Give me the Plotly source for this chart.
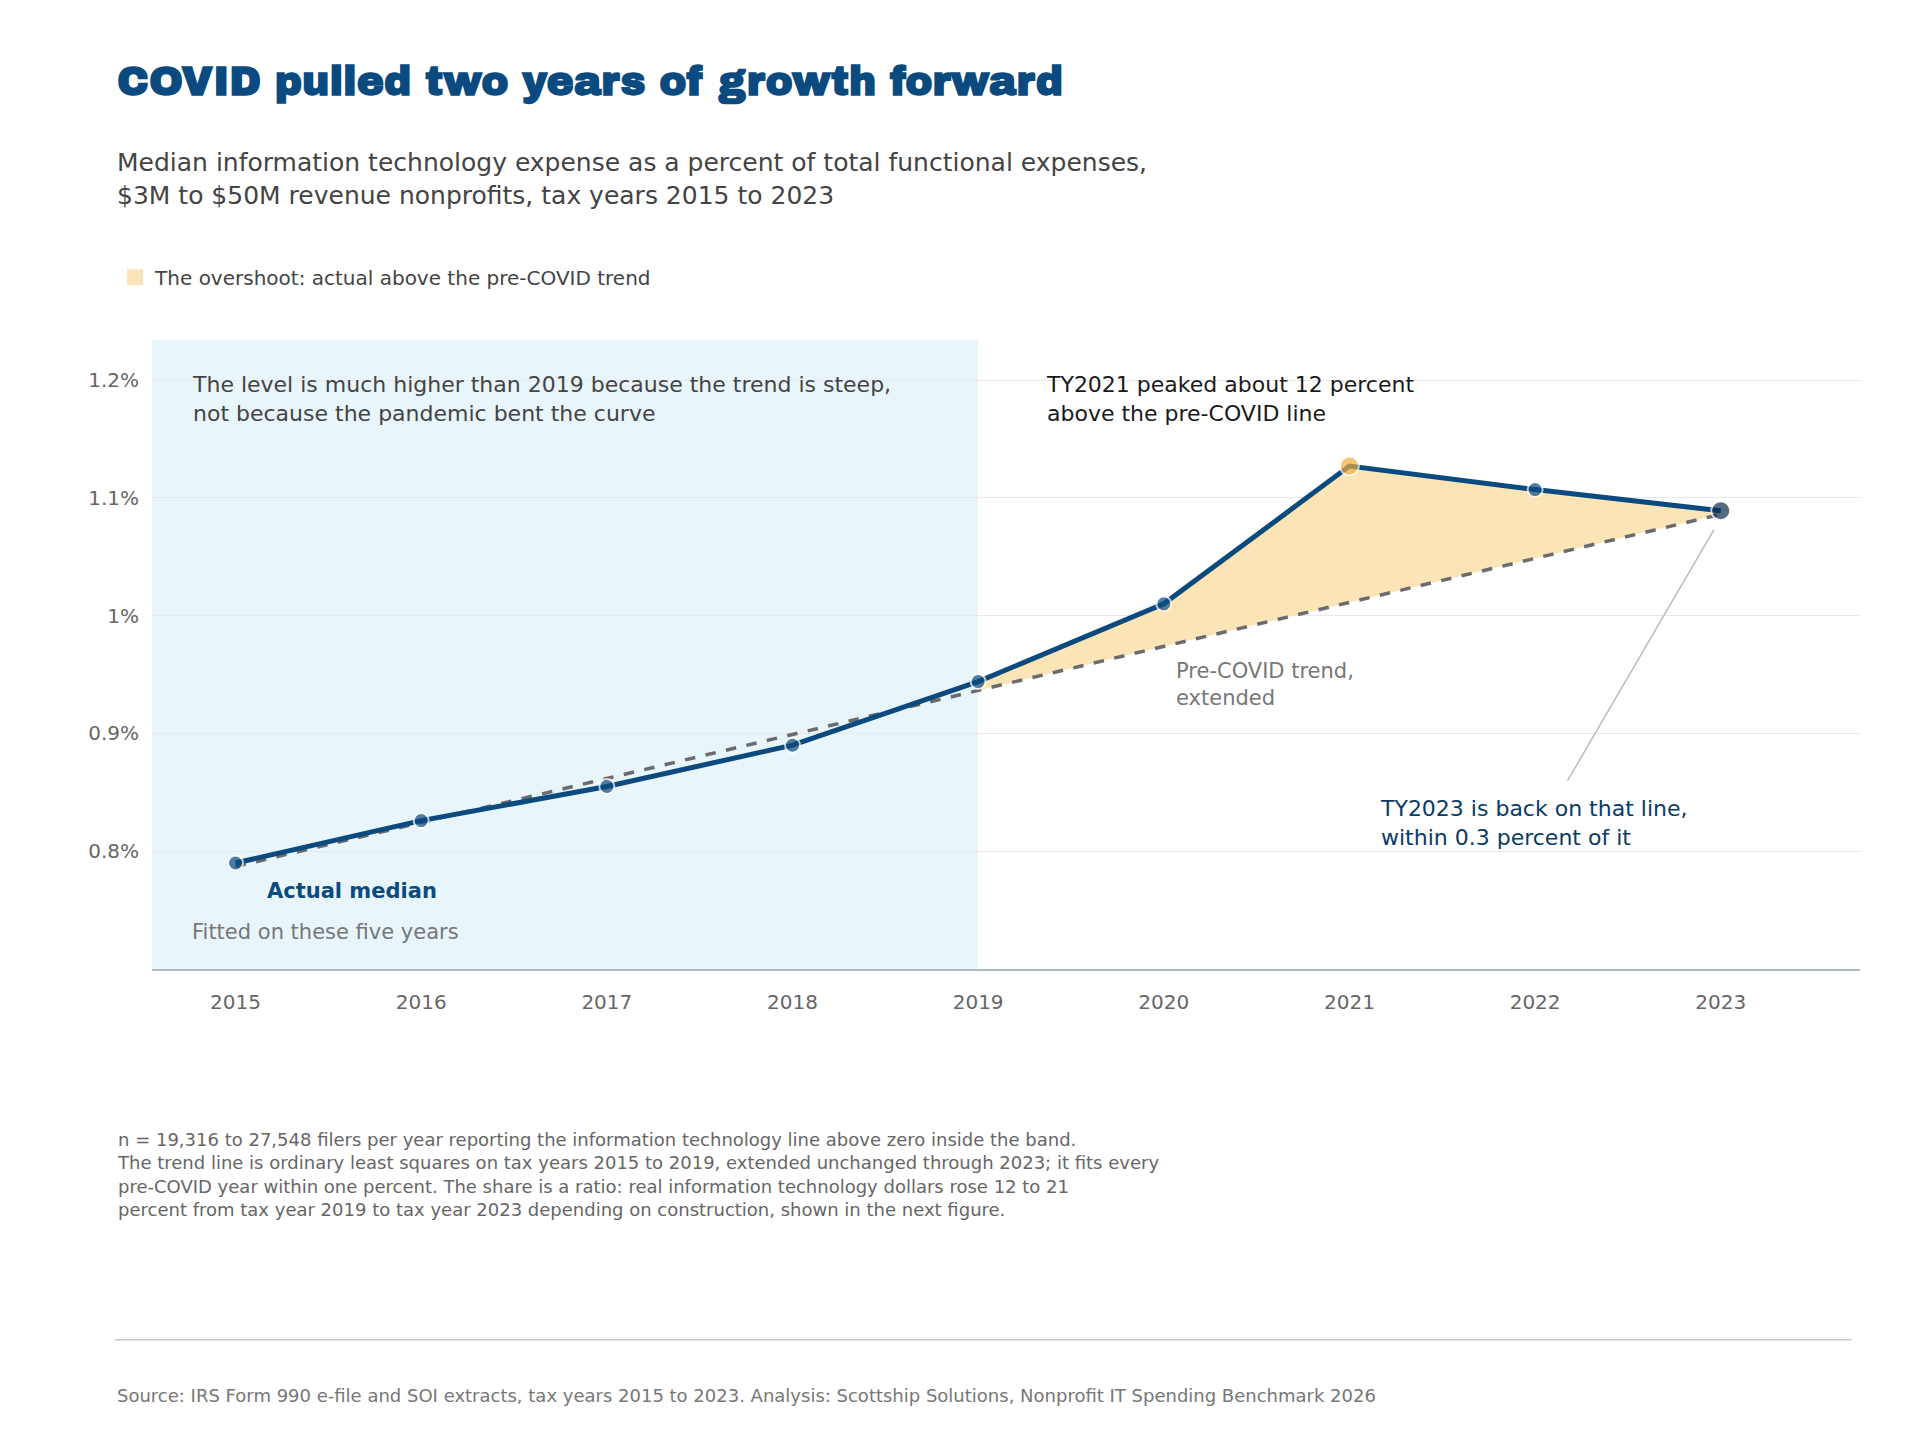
import plotly.graph_objects as go

years = [2015, 2016, 2017, 2018, 2019, 2020, 2021, 2022, 2023]
actual = [0.790, 0.826, 0.855, 0.890, 0.944, 1.010, 1.127, 1.107, 1.089]
trend_years = [2015, 2023]
trend = [0.787, 1.086]
trend_ext_years = [2019, 2020, 2021, 2022, 2023]
trend_ext = [0.9365, 0.974, 1.0115, 1.049, 1.086]
ytick_vals = [0.8, 0.9, 1.0, 1.1, 1.2]
ytick_text = ["0.8%", "0.9%", "1%", "1.1%", "1.2%"]

W, H = 1920, 1440
S = W / 1560  # reference measured at display scale
L, R, T, B = 144, 68, 332, 479
PW, PH = W - L - R, H - T - B


def px(x):
    return (x * S - L) / PW


def py(y):
    return (H - B - y * S) / PH


NAVY = "#0b4a7e"
FONT = "DejaVu Sans, sans-serif"

fig = go.Figure()

fig.add_vrect(x0=2014.55, x1=2019, fillcolor="#e8f5fb", line_width=0, layer="below")

# overshoot fill
fig.add_trace(go.Scatter(x=trend_ext_years, y=trend_ext, mode="lines",
                         line=dict(width=0), showlegend=False, hoverinfo="skip"))
fig.add_trace(go.Scatter(x=trend_ext_years, y=actual[4:], mode="lines", fill="tonexty",
                         fillcolor="#fbe5b6", line=dict(width=0), showlegend=False))
# legend swatch
fig.add_trace(go.Scatter(x=[None], y=[None], mode="markers",
                         marker=dict(symbol="square", size=20, color="#fbe5b6"),
                         name="The overshoot: actual above the pre-COVID trend"))

fig.add_trace(go.Scatter(x=trend_years, y=trend, mode="lines", showlegend=False,
                         line=dict(color="#6b6b6b", width=3.5, dash="dash")))

colors = [NAVY] * 6 + ["#f0ae3c", NAVY, "#0b2d4f"]
sizes = [15] * 6 + [19, 15, 19]
fig.add_trace(go.Scatter(x=years, y=actual, mode="lines+markers", showlegend=False,
                         line=dict(color=NAVY, width=5),
                         marker=dict(color=colors, size=sizes, line=dict(color="white", width=2))))

ann = []


def text(x, y, t, size=21, color="#444", bold=False, xanchor="left"):
    ann.append(dict(x=px(x), y=py(y), xref="paper", yref="paper", text=f"<b>{t}</b>" if bold else t,
                    showarrow=False, xanchor=xanchor, yanchor="top", align="left",
                    font=dict(family=FONT, size=size, color=color)))


text(87, 40, "COVID pulled two years of growth forward", 41, "#0b4a7e",
     bold=True)
ann[-1]["font"]["family"] = "Archivo Black, DejaVu Sans, sans-serif"
text(87, 112, "Median information technology expense as a percent of total functional expenses,<br>"
     "$3M to $50M revenue nonprofits, tax years 2015 to 2023", 25, "#444")
text(148, 294, "The level is much higher than 2019 because the trend is steep,<br>"
     "not because the pandemic bent the curve", 22, "#444")
text(842, 294, "TY2021 peaked about 12 percent<br>above the pre-COVID line", 22, "#1a1a1a")
text(947, 527, "Pre-COVID trend,<br>extended", 21, "#777")
text(1113, 639, "TY2023 is back on that line,<br>within 0.3 percent of it", 22, "#0b3a66")
text(209, 706, "Actual median", 21, NAVY, bold=True)
text(148, 739, "Fitted on these five years", 21, "#777")
text(87, 909, "n = 19,316 to 27,548 filers per year reporting the information technology line above zero inside the band.<br>"
     "The trend line is ordinary least squares on tax years 2015 to 2019, extended unchanged through 2023; it fits every<br>"
     "pre-COVID year within one percent. The share is a ratio: real information technology dollars rose 12 to 21<br>"
     "percent from tax year 2019 to tax year 2023 depending on construction, shown in the next figure.", 18, "#666")
text(87, 1117, "Source: IRS Form 990 e-file and SOI extracts, tax years 2015 to 2023. Analysis: Scottship Solutions, "
     "Nonprofit IT Spending Benchmark 2026", 18, "#777")

shapes = [
    dict(type="line", xref="paper", yref="paper", x0=px(1065), y0=py(355), x1=px(1083), y1=py(365),
         line=dict(color="#bbb", width=1.5)),
    dict(type="line", xref="paper", yref="paper", x0=px(1267), y0=py(628), x1=px(1386), y1=py(424),
         line=dict(color="#bbb", width=1.5)),
    dict(type="line", xref="paper", yref="paper", x0=px(87), y0=py(1082), x1=px(1498), y1=py(1082),
         line=dict(color="#c4c8ce", width=1.5)),
]

fig.update_layout(
    width=W, height=H, margin=dict(l=L, r=R, t=T, b=B),
    paper_bgcolor="white", plot_bgcolor="white",
    font=dict(family=FONT, color="#666"),
    annotations=ann, shapes=shapes,
    legend=dict(x=px(87), y=py(203), xanchor="left", yanchor="top", orientation="h",
                font=dict(size=20, color="#444"), bgcolor="rgba(0,0,0,0)", itemwidth=30),
    xaxis=dict(range=[2014.55, 2023.75], tickvals=years, showgrid=False, ticks="",
               showline=True, linecolor="#b0b8c4", linewidth=1.5,
               tickfont=dict(size=20, color="#666"), ticklabelstandoff=14),
    yaxis=dict(range=[0.70, 1.234], tickvals=ytick_vals, ticktext=ytick_text,
               gridcolor="#e6e9ee", gridwidth=1.2, zeroline=False,
               tickfont=dict(size=20, color="#666"), ticklabelstandoff=12),
)

fig.write_html("out.html")
